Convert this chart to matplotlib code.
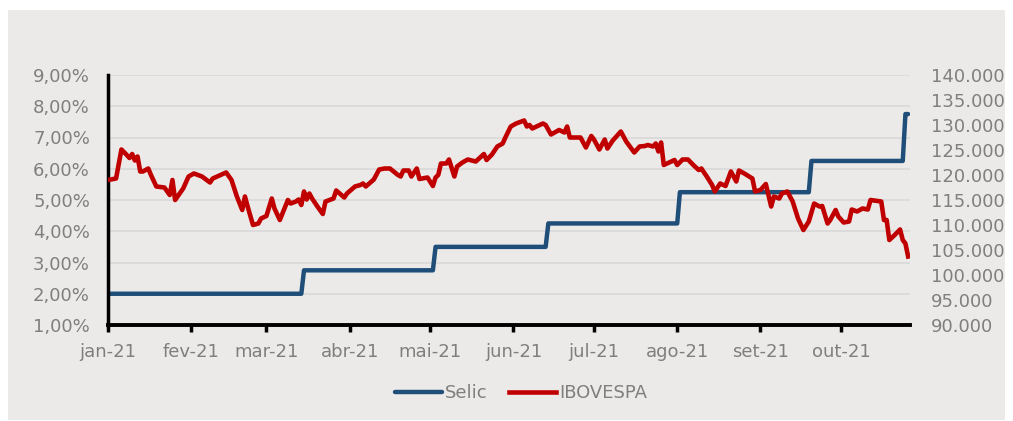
import matplotlib
matplotlib.use("Agg")
import matplotlib.pyplot as plt
import matplotlib.dates as mdates
import matplotlib.ticker as mticker
from matplotlib.patches import Rectangle
import pandas as pd

# ─── Data ────────────────────────────────────────────────
START = pd.Timestamp("2021-01-01")

# Selic (%), days since 1 Jan 2021
selic_day = [0, 72, 73, 121, 122, 163, 164, 212, 213, 261, 262, 296, 297, 298]
selic_val = [2.00, 2.00, 2.75, 2.75, 3.50, 3.50, 4.25, 4.25,
             5.25, 5.25, 6.25, 6.25, 7.75, 7.75]

# IBOVESPA (points), days since 1 Jan 2021
ibov_day = [0, 3, 5, 7, 8, 9, 10, 11, 12, 13, 15, 16, 18, 21, 23, 24, 25, 28,
            30, 32, 35, 38, 39, 44, 46, 48, 50, 51, 52, 54, 56, 57, 59, 61, 62,
            64, 67, 68, 70, 71, 72, 73, 74, 75, 76, 78, 80, 81, 84, 85, 88, 89,
            92, 94, 95, 96, 99, 101, 103, 105, 108, 109, 110, 112, 113, 115,
            116, 119, 121, 122, 123, 124, 126, 127, 129, 130, 132, 134, 137,
            140, 141, 143, 145, 147, 148, 150, 152, 155, 156, 157, 158, 162,
            163, 165, 168, 170, 171, 172, 176, 178, 180, 181, 183, 185, 186,
            188, 191, 193, 196, 198, 200, 201, 203, 204, 205, 206, 207, 211,
            212, 214, 216, 218, 220, 221, 223, 225, 226, 228, 230, 232, 234,
            235, 237, 240, 241, 243, 245, 247, 248, 250, 251, 253, 255, 257,
            259, 261, 263, 265, 266, 268, 269, 271, 272, 274, 276, 277, 279,
            281, 283, 284, 288, 289, 290, 291, 293, 295, 296, 297, 298]
ibov_val = [119000, 119300, 125100, 124000, 123400, 124200, 122900, 123700,
            120700, 120700, 121300, 120000, 117700, 117500, 116000, 119000,
            115000, 117300, 119700, 120300, 119700, 118500, 119300, 120500,
            119000, 115700, 113000, 115700, 113700, 110000, 110300, 111300,
            111800, 115300, 113300, 111000, 115000, 114300, 114700, 115100,
            114000, 116700, 115100, 116300, 115300, 113700, 112200, 114700,
            115300, 116900, 115500, 116300, 117700, 118000, 118300, 117700,
            119100, 121100, 121300, 121300, 120000, 119700, 120900, 120900,
            119700, 121300, 119200, 119500, 117800, 119500, 120000, 122300,
            122300, 123100, 119700, 121700, 122500, 123100, 122700, 124200,
            123000, 124100, 125700, 126300, 127500, 129700, 130300, 130900,
            129700, 130000, 129300, 130300, 130000, 128100, 129000, 128500,
            129700, 127500, 127500, 125500, 127800, 127100, 125100, 127100,
            125300, 126900, 128700, 126700, 124500, 125700, 125800, 126000,
            125700, 126300, 124700, 126500, 122000, 123000, 122000, 123100,
            123100, 122000, 121000, 121300, 119700, 118000, 116700, 118300,
            117800, 120700, 118700, 120900, 120300, 119300, 116700, 117000,
            118200, 113700, 115700, 115300, 116300, 116700, 114700, 111300,
            109000, 110700, 114300, 113700, 113800, 110300, 111000, 113000,
            111700, 110500, 110700, 113100, 112700, 113300, 113100, 115000,
            114700, 111000, 111000, 107000, 108000, 109100, 107000, 106300,
            103700]

month_pt = ["jan", "fev", "mar", "abr", "mai", "jun", "jul", "ago", "set", "out",
            "nov", "dez"]

# ─── Style ───────────────────────────────────────────────
BLUE = "#1F4E79"
RED = "#C00000"
TXT = "#7F7F7F"
GRID = "#D9D9D9"
PANEL = "#ECEAE8"
FS = 13

selic_dates = START + pd.to_timedelta(selic_day, unit="D")
ibov_dates = START + pd.to_timedelta(ibov_day, unit="D")

fig = plt.figure(figsize=(10.13, 4.21), dpi=100, facecolor="white")
fig.patches.append(Rectangle((8 / 1013, 1 / 421), 997 / 1013, 410 / 421,
                             transform=fig.transFigure, facecolor=PANEL,
                             edgecolor="none", zorder=-10))

ax = fig.add_axes([108 / 1013, 96 / 421, 802 / 1013, 250 / 421])
ax.set_facecolor("none")
ax2 = ax.twinx()

l1, = ax.plot(selic_dates, selic_val, color=BLUE, lw=3.2,
              solid_capstyle="round", label="Selic")
l2, = ax2.plot(ibov_dates, ibov_val, color=RED, lw=3.3,
               solid_joinstyle="round", label="IBOVESPA")

# left axis
ax.set_ylim(1, 9)
ax.yaxis.set_major_locator(mticker.MultipleLocator(1))
ax.yaxis.set_major_formatter(
    mticker.FuncFormatter(lambda v, p: f"{v:.2f}%".replace(".", ",")))
ax.grid(axis="y", color=GRID, lw=1.2)
ax.set_axisbelow(True)

# right axis
ax2.set_ylim(90000, 140000)
ax2.yaxis.set_major_locator(mticker.MultipleLocator(5000))
ax2.yaxis.set_major_formatter(
    mticker.FuncFormatter(lambda v, p: f"{v:,.0f}".replace(",", ".")))

# x axis
ax.set_xlim(START, START + pd.Timedelta(days=298.7))
ax.xaxis.set_major_locator(mdates.MonthLocator())
ax.xaxis.set_major_formatter(
    mticker.FuncFormatter(lambda v, p: month_pt[mdates.num2date(v).month - 1]
                          + mdates.num2date(v).strftime("-%y")))

for a in (ax, ax2):
    for s in ("top", "right"):
        a.spines[s].set_visible(False)
ax2.spines["left"].set_visible(False)
ax2.spines["bottom"].set_visible(False)
ax.spines["left"].set_linewidth(2.5)
ax.spines["bottom"].set_linewidth(2.8)

ax.tick_params(axis="y", length=0, pad=13, labelsize=FS, labelcolor=TXT)
ax2.tick_params(axis="y", length=0, pad=15, labelsize=FS, labelcolor=TXT)
ax.tick_params(axis="x", length=5, width=2.5, pad=8, labelsize=FS,
               labelcolor=TXT, color="black")

fig.legend(handles=[l1, l2], loc="center", bbox_to_anchor=(521 / 1013, 28 / 421),
           ncol=2, frameon=False, fontsize=FS, labelcolor=TXT,
           handlelength=2.6, handletextpad=0.15, columnspacing=1.2)

fig.savefig("out.png", dpi=100, facecolor=fig.get_facecolor())
